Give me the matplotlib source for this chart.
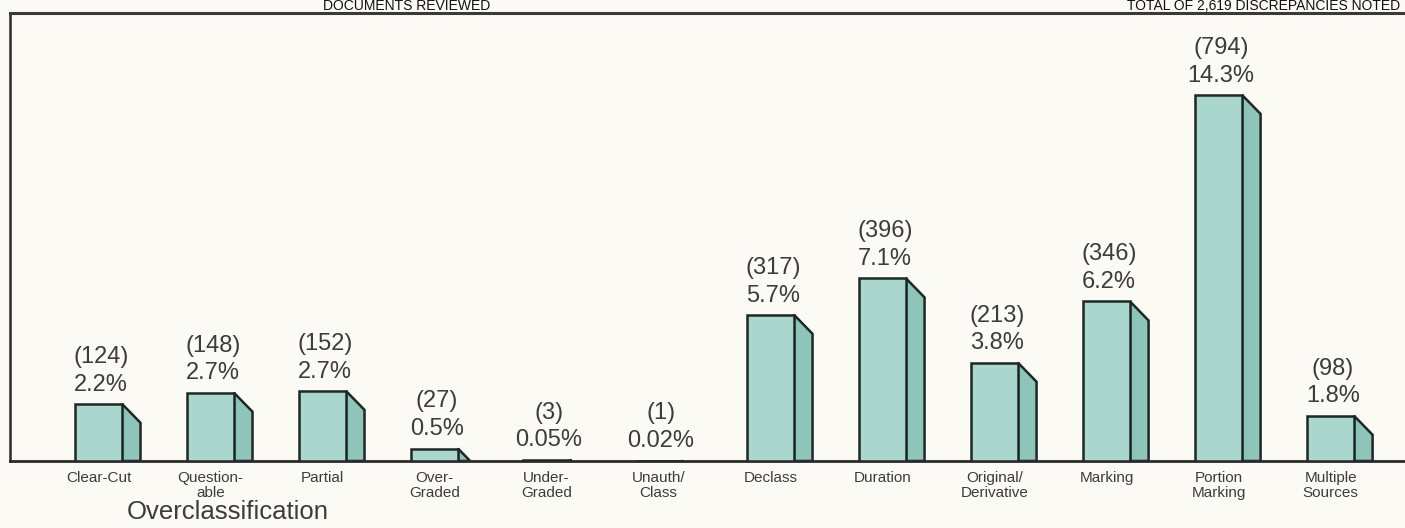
import matplotlib

matplotlib.use("Agg")
import matplotlib.pyplot as plt
from matplotlib.patches import Polygon

categories = [
    "Clear-Cut", "Question-\nable", "Partial", "Over-\nGraded", "Under-\nGraded",
    "Unauth/\nClass", "Declass", "Duration", "Original/\nDerivative", "Marking",
    "Portion\nMarking", "Multiple\nSources",
]
counts = [124, 148, 152, 27, 3, 1, 317, 396, 213, 346, 794, 98]
percents = ["2.2%", "2.7%", "2.7%", "0.5%", "0.05%", "0.02%",
            "5.7%", "7.1%", "3.8%", "6.2%", "14.3%", "1.8%"]
group_label = "Overclassification"
total_label = "TOTAL OF 2,619 DISCREPANCIES NOTED"
reviewed_label = "DOCUMENTS REVIEWED"

W, H = 1405, 528
BG = "#fcfaf4"
FRONT = "#a9d6cd"
SIDE = "#8fc4b9"
EDGE = "#1c2826"
TEXT = "#3c3c3c"
FONT = ["Liberation Sans", "DejaVu Sans"]

fig = plt.figure(figsize=(W / 100, H / 100), dpi=100)
fig.patch.set_facecolor(BG)

ax_left, ax_bottom, ax_top = 10, 461, 13
ax = fig.add_axes([ax_left / W, (H - ax_bottom) / H,
                   (W - ax_left) / W + 0.01, (ax_bottom - ax_top) / H])
ax.set_facecolor(BG)

spacing_px = 112.0
first_center_px = 98.5
x0 = -(first_center_px - ax_left) / spacing_px
x1 = x0 + (W - ax_left) / spacing_px * 1.01
px_per_count = 0.461
ax.set_xlim(x0, x1)
ax.set_ylim(0, (ax_bottom - ax_top) / px_per_count)

front_w = 47 / spacing_px
side_w = 18.5 / spacing_px
slant = 19 / px_per_count

for i, (c, pct) in enumerate(zip(counts, percents)):
    left = i - front_w / 2
    right = left + front_w
    # side face with chamfered top, clipped to the baseline for short bars
    if c > slant:
        pts = [(right, 0), (right, c), (right + side_w, c - slant), (right + side_w, 0)]
    else:
        pts = [(right, 0), (right, c), (right + side_w * c / slant, 0)]
    ax.add_patch(Polygon(pts, closed=True, facecolor=SIDE, edgecolor=EDGE,
                         linewidth=1.8, joinstyle="miter", zorder=2))
    ax.bar(i, c, width=front_w, color=FRONT, edgecolor=EDGE, linewidth=1.8,
           zorder=3)
    ax.annotate(pct, (i + 0.02, c), xytext=(0, 6), textcoords="offset points",
                ha="center", va="bottom", fontsize=17, color=TEXT, family=FONT)
    ax.annotate(f"({c})", (i + 0.02, c), xytext=(0, 26), textcoords="offset points",
                ha="center", va="bottom", fontsize=17, color=TEXT, family=FONT)

ax.set_xticks(range(len(categories)))
ax.set_xticklabels(categories, fontsize=11, color=TEXT, family=FONT,
                   linespacing=1.15, va="top")
ax.tick_params(axis="x", length=0, pad=7)
ax.set_yticks([])

ax.spines["right"].set_visible(False)
ax.spines["left"].set_linewidth(1.8)
ax.spines["left"].set_color("#2a2a2a")
ax.spines["top"].set_linewidth(2.2)
ax.spines["top"].set_color("#3a3a3a")
ax.spines["bottom"].set_linewidth(2.0)
ax.spines["bottom"].set_color("#2a2a2a")

fig.text(228 / W, 1 - 512 / H, group_label, ha="center", va="center",
         fontsize=18.5, color=TEXT, family=FONT)
fig.text(1400 / W, 1 - 10 / H, total_label, ha="right", va="baseline",
         fontsize=10, color="#111111", family=FONT)
fig.text(490 / W, 1 - 10 / H, reviewed_label, ha="right", va="baseline",
         fontsize=10, color="#111111", family=FONT)

fig.savefig("out.png", dpi=100, facecolor=BG)
